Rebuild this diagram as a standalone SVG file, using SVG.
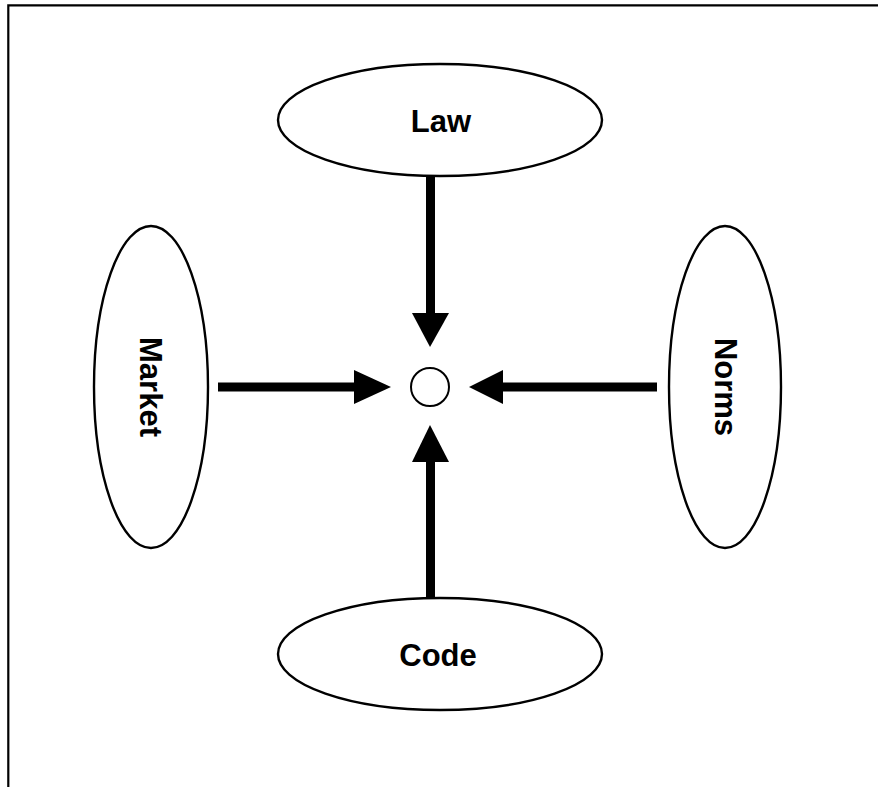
<svg xmlns="http://www.w3.org/2000/svg" width="878" height="787" viewBox="0 0 878 787">
  <style>
    .node ellipse { fill: #fff; stroke: #000; stroke-width: 2.4; }
    .label { font-family: "Liberation Sans", Arial, sans-serif; font-weight: bold; font-size: 31px; fill: #000; text-anchor: middle; }
    .shaft { stroke: #000; stroke-width: 9; fill: none; }
    .head { fill: #000; stroke: none; }
  </style>
  <rect x="0" y="0" width="878" height="787" fill="#fff"/>
  <path d="M8.3,787 V5.3 H878" fill="none" stroke="#000" stroke-width="2.2"/>

  <g id="law" class="node">
    <ellipse cx="440" cy="120" rx="162" ry="56"/>
    <text class="label" x="441" y="131.5">Law</text>
  </g>
  <g id="code" class="node">
    <ellipse cx="440" cy="654" rx="162" ry="56"/>
    <text class="label" x="438" y="666">Code</text>
  </g>
  <g id="market" class="node">
    <ellipse cx="151" cy="387" rx="57" ry="161"/>
    <text class="label" x="140" y="387" transform="rotate(90 140 387)">Market</text>
  </g>
  <g id="norms" class="node">
    <ellipse cx="725" cy="387" rx="56" ry="161"/>
    <text class="label" x="715" y="387" transform="rotate(90 715 387)">Norms</text>
  </g>
  <g id="center" class="node">
    <circle cx="430" cy="387" r="19" fill="#fff" stroke="#000" stroke-width="2"/>
  </g>

  <g id="connectors">
    <line class="shaft" x1="430.5" y1="176" x2="430.5" y2="314"/>
    <polygon class="head" points="412,313 449,313 430,347"/>
    <line class="shaft" x1="430.5" y1="598" x2="430.5" y2="461"/>
    <polygon class="head" points="412,462 449,462 430,425"/>
    <line class="shaft" x1="218" y1="387" x2="355" y2="387"/>
    <polygon class="head" points="354,370 354,404 391,387"/>
    <line class="shaft" x1="657" y1="387" x2="502" y2="387"/>
    <polygon class="head" points="503,370 503,404 469,387"/>
  </g>
</svg>
